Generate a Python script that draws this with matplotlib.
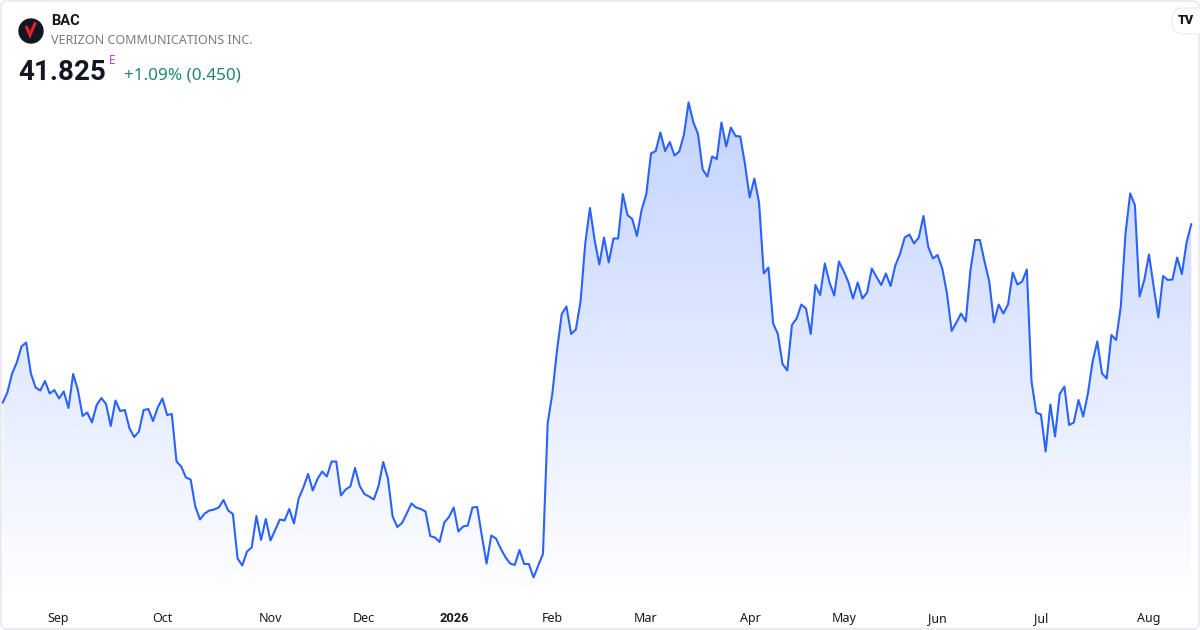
import numpy as np
import matplotlib
matplotlib.use("Agg")
import matplotlib.pyplot as plt
from matplotlib.patches import Circle, FancyBboxPatch

plt.rcParams['font.family'] = ['Noto Sans', 'DejaVu Sans']
BOLD_FONT = ['Roboto', 'DejaVu Sans']

# header values
symbol = "BAC"
company = "VERIZON COMMUNICATIONS INC."
last_price = "41.825"
change_text = "+1.09% (0.450)"

# daily closes, one per trading day (Aug 2025 - Aug 2026)
close = [
    38.26, 38.46, 38.84, 39.06, 39.38, 39.46, 38.84, 38.56, 38.50, 38.69,
    38.44, 38.51, 38.34, 38.48, 38.15, 38.83, 38.51, 37.99, 38.06, 37.86,
    38.21, 38.35, 38.23, 37.79, 38.30, 38.09, 38.11, 37.74, 37.57, 37.68,
    38.11, 38.13, 37.89, 38.16, 38.34, 38.01, 38.03, 37.08, 36.98, 36.76,
    36.72, 36.18, 35.92, 36.04, 36.10, 36.12, 36.16, 36.31, 36.10, 36.03,
    35.14,
    35.00, 35.28, 35.36, 35.99, 35.51, 35.93, 35.50, 35.71, 35.92, 35.90,
    36.13, 35.84, 36.34, 36.56, 36.83, 36.50, 36.73, 36.88, 36.78, 37.08,
    37.08, 36.40, 36.52, 36.58, 36.95, 36.59, 36.43, 36.38, 36.32, 36.59,
    37.07, 36.74, 35.98, 35.77, 35.85, 36.04, 36.24, 36.16, 36.13, 36.08,
    35.59, 35.56, 35.47, 35.86, 35.97, 36.16, 35.68, 35.78, 35.80, 36.16,
    36.17, 35.59, 35.04, 35.60, 35.54, 35.34, 35.17, 35.04, 35.01, 35.31,
    35.03, 35.03, 34.76, 35.00, 35.23, 37.84,
    38.44, 39.31, 40.03, 40.18, 39.63, 39.72, 40.28, 41.44, 42.15, 41.51,
    41.02, 41.56, 41.06, 41.54, 41.54, 42.43, 42.01, 41.93, 41.59, 42.11,
    42.43, 43.24, 43.29, 43.66, 43.29, 43.47, 43.20, 43.28, 43.61, 44.26,
    43.87, 43.63, 42.92, 42.78, 43.18, 43.13, 43.86, 43.38, 43.76, 43.59,
    43.58, 43.03, 42.36, 42.74, 42.26, 40.84, 40.96, 39.84, 39.63, 39.03,
    38.90,
    39.81, 39.94, 40.22, 40.14, 39.63, 40.61, 40.41, 41.04, 40.66, 40.40,
    41.08, 40.89, 40.67, 40.34, 40.66, 40.34, 40.46, 40.94, 40.77, 40.61,
    40.84, 40.59, 41.00, 41.23, 41.56, 41.62, 41.44, 41.56, 41.99, 41.38,
    41.14, 41.21, 40.94, 40.44, 39.69, 39.86, 40.04, 39.88, 40.91, 41.51,
    41.51, 41.08, 40.68, 39.86, 40.22, 40.04, 40.22, 40.86, 40.62, 40.68,
    40.92,
    38.68, 38.06, 38.02, 37.28, 38.22, 37.58, 38.43, 38.58, 37.81, 37.86,
    38.31, 37.98, 38.44, 39.08, 39.48, 38.84, 38.74, 39.61, 39.51, 40.18,
    41.64, 42.44, 42.21, 40.38, 40.71, 41.22, 40.58, 39.96, 40.79, 40.71,
    40.72, 41.16, 40.83, 41.46, 41.825,
]

# month labels and where they sit (in trading-day index)
month_labels = ["Sep", "Oct", "Nov", "Dec", "2026", "Feb", "Mar", "Apr",
                "May", "Jun", "Jul", "Aug"]
month_pos = [11.8, 33.9, 56.9, 76.9, 96.1, 116.9, 136.9, 159.1,
             179.1, 198.9, 221.0, 244.0]

LINE = "#2962ff"
W, H = 1200, 630

fig = plt.figure(figsize=(W / 100, H / 100), dpi=100)
fig.patch.set_facecolor("white")

# price pane: from top of figure down to y=602 px
ax = fig.add_axes([0, (H - 602) / H, 1, 602 / H])
x = np.arange(len(close))
y = np.array(close)
y_bottom, y_top = 34.27, 46.31
ax.set_xlim(-0.575, 254.86)
ax.set_ylim(y_bottom, y_top)

# gradient area under the line
poly = ax.fill_between(x, y, y_bottom, color="none", lw=0)
alpha = np.linspace(0.0, 0.28, 256).reshape(-1, 1)
rgba = np.zeros((256, 1, 4))
rgba[..., 0] = 41 / 255
rgba[..., 1] = 98 / 255
rgba[..., 2] = 1.0
rgba[..., 3] = alpha[:, 0:1]
im = ax.imshow(rgba, extent=[x[0], x[-1], y_bottom, y.max()],
               aspect="auto", origin="lower", zorder=1, interpolation="bilinear")
im.set_clip_path(poly.get_paths()[0], transform=ax.transData)
ax.plot(x, y, color=LINE, lw=1.5, zorder=2, solid_joinstyle="round")

ax.set_xticks(month_pos)
ax.set_xticklabels(month_labels, fontsize=9, color="#131722")
year_label = ax.get_xticklabels()[4]
year_label.set_fontfamily(BOLD_FONT)
year_label.set_fontweight("bold")
year_label.set_fontsize(9.2)
ax.tick_params(axis="x", length=0, pad=7)
ax.set_yticks([])
for s in ax.spines.values():
    s.set_visible(False)
ax.set_facecolor("none")

# overlay in pixel coordinates for header, logo and frame
ov = fig.add_axes([0, 0, 1, 1])
ov.set_xlim(0, W)
ov.set_ylim(H, 0)
ov.axis("off")
ov.set_facecolor("none")

ov.add_patch(FancyBboxPatch((1, 1), W - 2, H - 2, boxstyle="round,pad=0,rounding_size=6",
                            fc="none", ec="#e0e3eb", lw=1))

# company logo
ov.add_patch(Circle((31, 31), 12, color="#131722"))
ov.plot([26.5, 30, 35], [27, 35, 23.5], color="#e8202e", lw=2.2,
        solid_capstyle="round", solid_joinstyle="miter")

ov.text(51, 21, symbol, fontsize=10.5, fontweight="bold", color="#131722",
        va="center", family=BOLD_FONT)
ov.text(51, 41, company, fontsize=9, color="#787b86", va="center")
ov.text(18, 72, last_price, fontsize=20, fontweight="bold", color="#131722",
        va="center", family=BOLD_FONT)
ov.text(108.5, 61, "E", fontsize=8.5, color="#ab47bc", va="center")
ov.text(124, 75, change_text, fontsize=12.3, color="#22866e", va="center")

# TradingView badge
ov.add_patch(FancyBboxPatch((1172, 8), 40, 26, boxstyle="round,pad=0,rounding_size=12",
                            fc="white", ec="#eceef2", lw=1, zorder=3))
ov.text(1186, 21, "TV", fontsize=9, fontweight="black", color="#131722",
        va="center", ha="center", zorder=4, family=BOLD_FONT)

fig.savefig("out.png", dpi=100, facecolor="white")
